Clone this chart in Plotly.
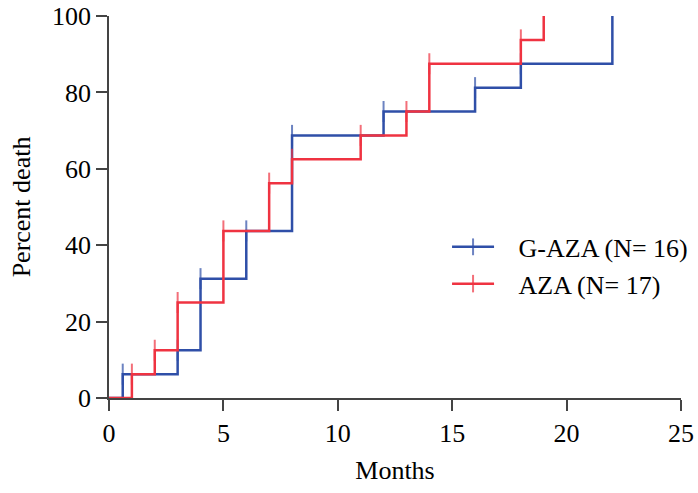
import plotly.graph_objects as go

# Data (Kaplan-Meier style cumulative death, %)
gaza_months = [0, 0.6, 3, 4, 6, 8, 12, 16, 18, 22]
gaza_percent = [0, 6.25, 12.5, 31.25, 43.75, 68.75, 75, 81.25, 87.5, 100]

aza_months = [0, 1, 2, 3, 5, 7, 8, 11, 13, 14, 18, 19]
aza_percent = [0, 6.25, 12.5, 25, 43.75, 56.25, 62.5, 68.75, 75, 87.5, 93.75, 100]

series_names = ["G-AZA (N= 16)", "AZA (N= 17)"]
series_colors = ["#2f4fa8", "#ef3341"]

x_ticks = [0, 5, 10, 15, 20, 25]
y_ticks = [0, 20, 40, 60, 80, 100]

FONT = "Liberation Serif"

fig = go.Figure()

for xs, ys, name, color in [
    (gaza_months, gaza_percent, series_names[0], series_colors[0]),
    (aza_months, aza_percent, series_names[1], series_colors[1]),
]:
    n = len(xs)
    sizes = [0] + [15] * (n - 2) + [0]
    fig.add_trace(go.Scatter(
        x=xs, y=ys, mode="lines+markers", name="\u00a0\u00a0\u00a0" + name,
        line=dict(color=color, width=2.5, shape="hv"),
        marker=dict(symbol="line-ns", size=sizes,
                    line=dict(color=color, width=2)),
        cliponaxis=False,
    ))

axis_common = dict(
    showline=True, linecolor="#444444", linewidth=1.5,
    ticks="outside", ticklen=11, tickwidth=1.5, tickcolor="#444444",
    showgrid=False, zeroline=False, automargin=False,
    tickfont=dict(family=FONT, size=26, color="black"),
)

fig.update_layout(
    width=698, height=493, autosize=False,
    margin=dict(l=109, r=17, t=16, b=95, autoexpand=False),
    paper_bgcolor="white", plot_bgcolor="white",
    font=dict(family=FONT, size=26, color="black"),
    xaxis=dict(range=[0, 25], tickvals=x_ticks, **axis_common,
               title=dict(text="Months", font=dict(family=FONT, size=26),
                          standoff=14)),
    yaxis=dict(range=[0, 100], tickvals=y_ticks, **axis_common,
               title=dict(text="Percent death", font=dict(family=FONT, size=26),
                          standoff=14)),
    legend=dict(x=0.591, y=0.457, xanchor="left", yanchor="top",
                bgcolor="rgba(0,0,0,0)", itemwidth=42,
                font=dict(family=FONT, size=26, color="black")),
    showlegend=True,
)

fig.write_html(
    "out.html",
    config={"responsive": False, "displayModeBar": False},
    post_script="document.body.style.margin='0px';document.body.style.overflow='hidden';",
)
